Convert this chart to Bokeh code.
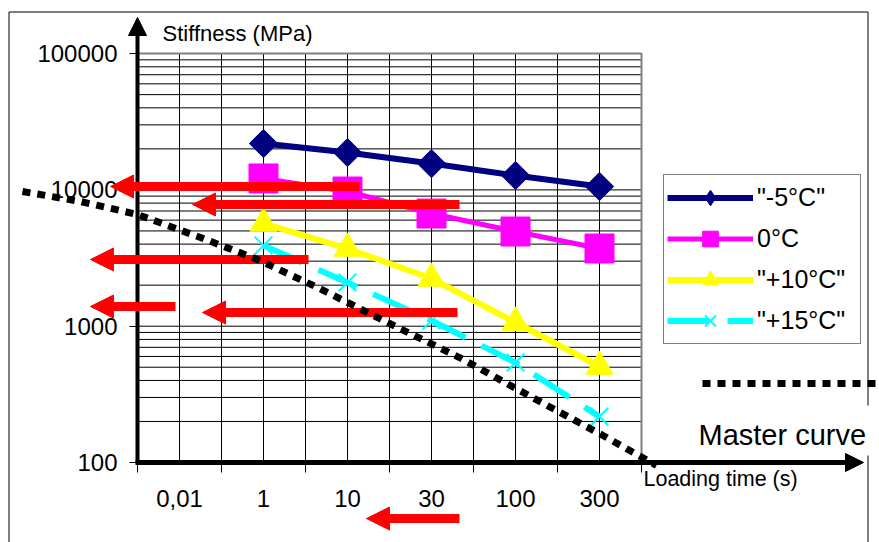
import math
from bokeh.plotting import figure
from bokeh.models import (Range1d, FixedTicker, LinearAxis, Arrow, NormalHead, Label,
                          Legend, LegendItem, PrintfTickFormatter)
from bokeh.embed import file_html
from bokeh.resources import INLINE

# ---------------- data ----------------
categories = ["0,01", "1", "10", "30", "100", "300"]
series_names = ['"-5°C"', '0°C', '"+10°C"', '"+15°C"']
# series are given at the categories "1", "10", "30", "100", "300"
stiff_m5 = [21900, 18800, 15600, 12760, 10590]
stiff_0 = [12130, 9730, 6710, 4950, 3715]
stiff_10 = [5670, 3715, 2239, 1065, 506]
stiff_15 = [3910, 2093, 1101, 541, 217]
y_ticks = [100, 1000, 10000, 100000]

# master curve (x in category units, 0 = left edge of plot area)
master_x = [-1.369, -0.679, 0.0, 0.75, 1.429, 2.143, 2.976, 3.833, 4.679, 5.524, 6.179]
master_y = [9730, 8220, 6600, 4475, 3085, 1923, 1065, 589, 305, 160, 95]

# red shift arrows
arrow_y = [10590, 7815, 3085, 1395, 1260, 38.8]
arrow_tail = [2.643, 3.833, 2.036, 0.452, 3.810, 3.833]
arrow_tip = [-0.321, 0.655, -0.560, -0.560, 0.774, 2.726]

# ---------------- layout ----------------
X0, CAT = 137.0, 84.0      # canvas px of x=0, px per category
Y100, DEC = 462.0, 136.3   # canvas px of y=100, px per decade
W, H = 879, 542


def px2x(px):
    return (px - X0) / CAT


def px2y(py):
    return 10 ** (2 + (Y100 - py) / DEC)


FONT = "Liberation Sans"
ncat = len(categories)
cx = [i + 0.5 for i in range(ncat)]
sx = cx[1:]

p = figure(width=W, height=H, x_range=Range1d(px2x(0), px2x(W)),
           y_range=Range1d(px2y(H), px2y(0)), y_axis_type="log",
           output_backend="svg", toolbar_location=None,
           min_border_left=0, min_border_right=0, min_border_bottom=0, min_border_top=0)
p.xgrid.grid_line_color = None
p.ygrid.grid_line_color = None
p.outline_line_color = None
p.background_fill_color = "white"
p.border_fill_color = "white"

# outer chart border (left, top, right)
p.line([px2x(8.5), px2x(8.5), px2x(867.5), px2x(867.5)],
       [px2y(H + 5), px2y(11.5), px2y(11.5), px2y(H + 5)], line_color="black", line_width=1)

# grid lines inside plot area
gx = [i * 0.5 for i in range(1, 2 * ncat)]
p.segment(x0=gx, y0=[y_ticks[0]] * len(gx), x1=gx, y1=[y_ticks[-1]] * len(gx),
          line_color="black", line_width=1)
gy = [m * 10 ** e for e in (2, 3, 4) for m in range(2, 10)] + y_ticks[1:-1]
p.segment(x0=[0] * len(gy), y0=gy, x1=[ncat] * len(gy), y1=gy,
          line_color="black", line_width=1)
p.line([0, ncat, ncat], [y_ticks[-1], y_ticks[-1], y_ticks[0]], line_color="#808080", line_width=2)

# axes
ya = p.yaxis[0]
ya.fixed_location = 0
ya.ticker = FixedTicker(ticks=y_ticks, minor_ticks=[])
ya.formatter = PrintfTickFormatter(format="%d")
ya.axis_line_color = None
ya.major_tick_out = 8
ya.major_tick_in = 0
ya.minor_tick_out = 0
ya.minor_tick_in = 0
ya.major_tick_line_color = "black"
ya.major_label_standoff = 12
ya.major_label_text_font = FONT
ya.major_label_text_font_size = "24px"
ya.major_label_text_color = "black"

xa = p.xaxis[0]
xa.fixed_location = y_ticks[0]
xa.ticker = FixedTicker(ticks=list(range(ncat + 1)), minor_ticks=[])
xa.axis_line_color = None
xa.major_tick_out = 10
xa.major_tick_in = 0
xa.minor_tick_out = 0
xa.major_tick_line_color = "black"
xa.major_label_text_color = None

xl = LinearAxis(fixed_location=y_ticks[0], ticker=FixedTicker(ticks=cx, minor_ticks=[]),
                major_label_overrides=dict(zip(cx, categories)),
                axis_line_color=None, major_tick_out=0, major_tick_in=0,
                minor_tick_out=0, minor_tick_in=0, major_label_standoff=27,
                major_label_text_font=FONT, major_label_text_font_size="24px",
                major_label_text_color="black")
p.add_layout(xl, "below")

# white box behind the "Master curve" text (hides the border line there)
p.quad(left=px2x(693), right=px2x(873), top=px2y(405), bottom=px2y(455),
       fill_color="white", line_color=None)
p.add_layout(Label(x=px2x(698), y=px2y(434), text="Master curve", text_font=FONT,
                   text_font_size="29px", text_color="black", text_baseline="alphabetic"))

# axis arrows
p.add_layout(Arrow(end=NormalHead(size=18, fill_color="black", line_color="black"),
                   x_start=0, y_start=y_ticks[0], x_end=0, y_end=px2y(17),
                   line_color="black", line_width=4))
p.add_layout(Arrow(end=NormalHead(size=18, fill_color="black", line_color="black"),
                   x_start=px2x(135), y_start=y_ticks[0], x_end=px2x(863), y_end=y_ticks[0],
                   line_color="black", line_width=5))

# series
items = []
r1 = p.line(sx, stiff_m5, line_color="#000080", line_width=6)
k1 = p.scatter(sx, stiff_m5, marker="diamond", size=20, fill_color="#000080", line_color="#000080")
m1 = p.scatter(sx, stiff_m5, marker="square", angle=math.pi / 4, size=20,
               fill_color="#000080", line_color="#000080")
items.append(LegendItem(label=series_names[0], renderers=[r1, k1]))
r2 = p.line(sx, stiff_0, line_color="#FF00FF", line_width=5)
m2 = p.scatter(sx, stiff_0, marker="square", size=29, fill_color="#FF00FF", line_color="#FF00FF")
items.append(LegendItem(label=series_names[1], renderers=[r2, m2]))
r3 = p.line(sx, stiff_10, line_color="#FFFF00", line_width=6)
m3 = p.scatter(sx, stiff_10, marker="triangle", size=27, fill_color="#FFFF00", line_color="#FFFF00")
items.append(LegendItem(label=series_names[2], renderers=[r3, m3]))
r4 = p.line(sx, stiff_15, line_color="#00FFFF", line_width=6, line_dash="42 18")
m4 = p.scatter(sx, stiff_15, marker="x", size=25, line_color="#00FFFF", line_width=2)
items.append(LegendItem(label=series_names[3], renderers=[r4, m4]))

legend = Legend(items=items, location=(663, H - 344),
                label_text_font=FONT, label_text_font_size="25px", label_text_color="black",
                glyph_width=86, glyph_height=39, spacing=2, padding=3, label_standoff=4,
                label_width=100,
                border_line_color="black", border_line_width=1,
                background_fill_color="white", background_fill_alpha=1, margin=0)
p.add_layout(legend)

# red arrows
for ya_, xt, xh in zip(arrow_y, arrow_tail, arrow_tip):
    p.add_layout(Arrow(end=NormalHead(size=23, fill_color="red", line_color="red"),
                       x_start=xt, y_start=ya_, x_end=xh, y_end=ya_,
                       line_color="red", line_width=9))

# master curve (drawn on top)
mc = p.line(master_x, master_y, line_color="black", line_width=7, line_dash="8 7")
mc.level = "overlay"
ml = p.line([px2x(702), px2x(W + 10)], [px2y(383), px2y(383)], line_color="black",
            line_width=7, line_dash="8 7")

# axis titles
p.add_layout(Label(x=px2x(162), y=px2y(33), text="Stiffness (MPa)", text_font=FONT,
                   text_font_size="22px", text_color="black", text_baseline="alphabetic"))
p.add_layout(Label(x=px2x(643), y=px2y(478), text="Loading time (s)", text_font=FONT,
                   text_font_size="21.5px", text_color="black", text_baseline="alphabetic"))

open("out.html", "w").write(file_html(p, INLINE))
